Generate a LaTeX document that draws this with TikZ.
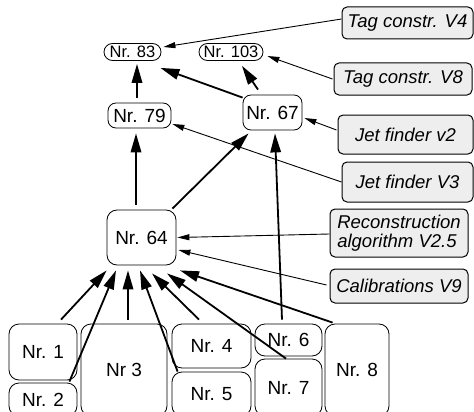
\documentclass[tikz,border=0pt]{standalone}
\usepackage{fontspec}
\setmainfont{Liberation Sans}
\usetikzlibrary{arrows.meta,calc}
\definecolor{notegray}{RGB}{238,238,238}
\tikzset{
  box/.style={draw, fill=white, line width=0.8pt, rounded corners=10pt, inner sep=0pt,
    font=\fontsize{19}{21}\selectfont},
  pill/.style={draw, fill=white, line width=0.8pt, rounded corners=8.5pt, inner sep=0pt,
    font=\fontsize{16.5}{17}\selectfont},
  note/.style={draw, fill=notegray, line width=1pt, rounded corners=5pt, inner sep=0pt,
    align=left, font=\fontsize{18.5}{19.5}\selectfont\itshape},
  dep/.style={line width=1.8pt, -{Triangle[length=19pt,width=10.5pt]}},
  feed/.style={line width=0.9pt, -{Triangle[length=12pt,width=6pt]}},
}
\begin{document}
\begin{tikzpicture}[x=1pt,y=-1pt]
\useasboundingbox (0,0) rectangle (474,412);
\clip (0,0) rectangle (474,412);

% result nodes
\node[pill, minimum width=57pt, minimum height=17pt] (n83) at (132.5,52) {Nr. 83};
\node[pill, minimum width=64pt, minimum height=17pt] (n103) at (231,52) {Nr. 103};
\node[box, rounded corners=8pt, minimum width=63pt, minimum height=25pt] (n79) at (139.5,115.5) {Nr. 79};
\node[box, rounded corners=8pt, minimum width=59pt, minimum height=35pt] (n67) at (272.5,112.5) {Nr. 67};
\node[box, minimum width=69pt, minimum height=55pt] (n64) at (141.5,237.5) {Nr. 64};

% input nodes
\node[box, minimum width=68pt, minimum height=56pt] (n1) at (43,352) {Nr. 1};
\node[box, minimum width=68pt, minimum height=33pt] (n2) at (43,399.5) {Nr. 2};
\node[box, minimum width=86pt, minimum height=92pt] (n3) at (124,370) {Nr 3};
\node[box, minimum width=79pt, minimum height=44pt] (n4) at (211.5,346) {Nr. 4};
\node[box, minimum width=79pt, minimum height=44pt] (n5) at (211.5,394) {Nr. 5};
\node[box, minimum width=67pt, minimum height=32pt] (n6) at (288.5,340) {Nr. 6};
\node[box, minimum width=67pt, minimum height=57pt] (n7) at (288.5,387.5) {Nr. 7};
\node[box, minimum width=64pt, minimum height=92pt] (n8) at (357,370) {Nr. 8};

% version notes
\node[note, minimum width=131pt, minimum height=32pt] (t4) at (407.5,23) {Tag constr. V4};
\node[note, minimum width=138pt, minimum height=32pt] (t8) at (403,79) {Tag constr. V8};
\node[note, minimum width=135pt, minimum height=39pt] (j2) at (405.5,134.5) {Jet finder v2};
\node[note, minimum width=131pt, minimum height=40pt] (j3) at (407.5,182) {Jet finder V3};
\node[note, minimum width=138pt, minimum height=48pt] (rec) at (399,233) {Reconstruction\\algorithm V2.5};
\node[note, minimum width=138pt, minimum height=34pt] (cal) at (399,286) {Calibrations V9};

% dependencies between results
\draw[dep] ($(n79.north)+(-2.5,-5)$) -- ($(n83.south)+(4.5,3)$);
\draw[dep] ($(n67.north west)+(0,3)$) -- ($(n83.south east)+(-1,7)$);
\draw[dep] ($(n67.north)+(-14.5,-5)$) -- ($(n103.south)+(11,5)$);
\draw[dep] ($(n64.north)+(-5.5,-5)$) -- ($(n79.south)+(-3.5,5)$);
\draw[dep] ($(n64.north east)+(-4,-1)$) -- ($(n67.south west)+(6,3)$);
\draw[dep] ($(n6.north)+(-6.5,-4)$) -- ($(n67.south)+(2.5,3)$);

% inputs feeding Nr. 64
\draw[dep] ($(n1.north)+(18,-4)$) -- ($(n64.south)+(-34.8,5)$);
\draw[dep] ($(n2.north east)+(-8,-1)$) -- ($(n64.south)+(-25.5,5)$);
\draw[dep] ($(n3.north)+(4,-4)$) -- ($(n64.south)+(-13.5,5)$);
\draw[dep] ($(n5.north west)+(6,0)$) -- ($(n64.south)+(-1.5,5)$);
\draw[dep] ($(n4.north)+(-12.5,-4)$) -- ($(n64.south)+(10.5,8)$);
\draw[dep] ($(n7.north)+(-2.5,0)$) -- ($(n64.south)+(25.5,8)$);
\draw[dep] ($(n8.north west)+(8,-1)$) -- ($(n64.south)+(38.5,5)$);

% version notes pointing at results
\draw[feed] ($(t4.west)+(0,-4)$) -- ($(n83.east)+(2,-5)$);
\draw[feed] ($(t8.west)+(-1,0)$) -- ($(n103.east)+(4,4)$);
\draw[feed] ($(j2.west)+(-1,-4.5)$) -- ($(n67.east)+(2,5.5)$);
\draw[feed] (j3.west) -- ($(n79.east)+(1,8.5)$);
\draw[feed] ($(rec.west)+(0,1)$) -- ($(n64.east)+(1,0)$);
\draw[feed] ($(cal.west)+(-3,-1)$) -- ($(n64.east)+(2,12.5)$);
\end{tikzpicture}
\end{document}
